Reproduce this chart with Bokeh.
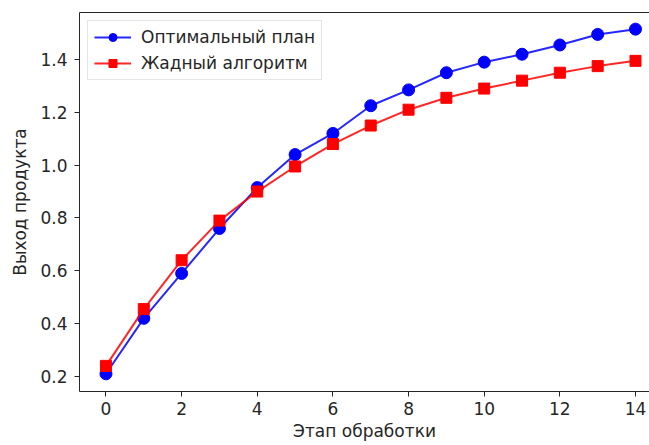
from bokeh.plotting import figure
from bokeh.models import (Range1d, FixedTicker, PrintfTickFormatter, LinearAxis,
                          Legend, LegendItem)
from bokeh.embed import file_html
from bokeh.resources import INLINE

# Processing stages and product yield for the two strategies
stages = list(range(15))
optimal_plan = [0.21, 0.42, 0.59, 0.76, 0.915, 1.04, 1.12, 1.225, 1.285,
                1.35, 1.39, 1.42, 1.455, 1.495, 1.515]
greedy_algo = [0.24, 0.455, 0.64, 0.79, 0.90, 0.995, 1.08, 1.15, 1.21,
               1.255, 1.29, 1.32, 1.35, 1.375, 1.395]
x_ticks = [0, 2, 4, 6, 8, 10, 12, 14]
y_ticks = [0.2, 0.4, 0.6, 0.8, 1.0, 1.2, 1.4]
series_names = ["Оптимальный план", "Жадный алгоритм"]

FONT = "DejaVu Sans"
INK = "#262626"
SIZE = "17px"

p = figure(width=649, height=445, output_backend="svg", toolbar_location=None,
           x_range=Range1d(-0.7, 14.37), y_range=Range1d(0.143, 1.578),
           min_border_left=79, min_border_right=0, min_border_top=12,
           min_border_bottom=54)
p.outline_line_color = None
p.grid.visible = False
p.background_fill_color = "white"
p.border_fill_color = "white"

# optimal plan: blue line with circles
opt_line = p.line(stages, optimal_plan, line_color="blue", line_width=2, line_alpha=0.85)
opt_pts = p.scatter(stages, optimal_plan, marker="circle", size=12,
                    fill_color="blue", line_color="blue")
# greedy algorithm: red line with squares
gr_line = p.line(stages, greedy_algo, line_color="red", line_width=2, line_alpha=0.85)
gr_pts = p.scatter(stages, greedy_algo, marker="square", size=11,
                   fill_color="red", line_color="red")

for ax in (p.xaxis[0], p.yaxis[0]):
    ax.axis_line_color = INK
    ax.major_tick_line_color = INK
    ax.major_tick_out = 5
    ax.major_tick_in = 0
    ax.minor_tick_line_color = None
    ax.major_label_text_font = FONT
    ax.major_label_text_font_size = SIZE
    ax.major_label_text_color = INK
    ax.axis_label_text_font = FONT
    ax.axis_label_text_font_size = SIZE
    ax.axis_label_text_font_style = "normal"
    ax.axis_label_text_color = INK

p.xaxis.ticker = FixedTicker(ticks=x_ticks)
p.yaxis.ticker = FixedTicker(ticks=y_ticks)
p.yaxis.formatter = PrintfTickFormatter(format="%.1f")
p.xaxis.axis_label = "Этап обработки"
p.yaxis.axis_label = "Выход продукта"
p.xaxis.major_label_standoff = 5
p.yaxis.major_label_standoff = 7
p.xaxis.axis_label_standoff = 3
p.yaxis.axis_label_standoff = 7

# top spine
top = LinearAxis(ticker=FixedTicker(ticks=[]), axis_line_color=INK,
                 major_tick_line_color=None, minor_tick_line_color=None,
                 major_label_text_font_size="0px")
p.add_layout(top, "above")

legend = Legend(items=[LegendItem(label=series_names[0], renderers=[opt_line, opt_pts]),
                       LegendItem(label=series_names[1], renderers=[gr_line, gr_pts])],
                location="top_left")
legend.margin = 8
legend.padding = 6
legend.spacing = 6
legend.glyph_width = 37
legend.glyph_height = 20
legend.label_height = 20
legend.label_standoff = 10
legend.label_text_font = FONT
legend.label_text_font_size = SIZE
legend.label_text_color = INK
legend.border_line_color = "#cccccc"
legend.background_fill_alpha = 0.8
p.add_layout(legend)

open("out.html", "w").write(file_html(p, INLINE))
